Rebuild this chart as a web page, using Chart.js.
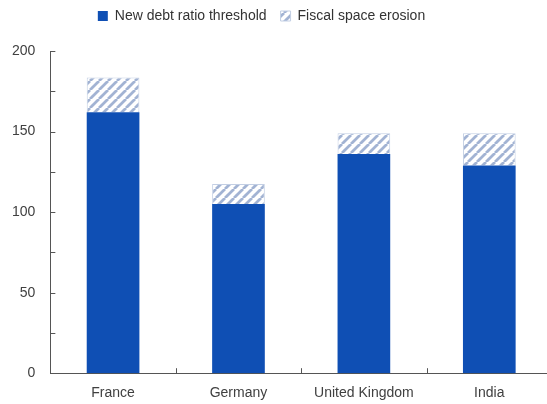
<!DOCTYPE html>
<html>
<head>
<meta charset="utf-8">
<script src="https://cdn.jsdelivr.net/npm/chart.js@4"></script>
<style>
  body { margin: 0; background: #fff; overflow: hidden; }
  .wrap { width: 552px; height: 404px; }
</style>
</head>
<body>
<div class="wrap"><canvas id="debtChart"></canvas></div>
<script>
// data
const categories = ["France", "Germany", "United Kingdom", "India"];
const thresholdValues = [162, 105, 136, 129];
const erosionValues = [21.5, 12.5, 13, 20];
const yMajorStep = 50;

const BLUE = "#0f4fb4";
const HATCH = "#a2b3d3";

// diagonal hatch for the erosion part
function hatchPattern() {
  const c = document.createElement("canvas");
  c.width = 9; c.height = 9;
  const g = c.getContext("2d");
  g.fillStyle = "#fff";
  g.fillRect(0, 0, 9, 9);
  g.strokeStyle = HATCH;
  g.lineWidth = 2.8;
  g.beginPath();
  for (let k = -9; k <= 18; k += 9) {
    g.moveTo(k, 9);
    g.lineTo(k + 9, 0);
  }
  g.stroke();
  return g.createPattern(c, "repeat");
}

// small inward tick marks, like the original
const innerTicks = {
  id: "innerTicks",
  afterDraw(chart) {
    const { ctx, scales: { x, y }, chartArea } = chart;
    ctx.save();
    ctx.strokeStyle = "#555";
    ctx.lineWidth = 1;
    ctx.beginPath();
    y.ticks.forEach(t => {
      const py = Math.round(y.getPixelForValue(t.value)) + 0.5;
      ctx.moveTo(chartArea.left, py);
      ctx.lineTo(chartArea.left + 5, py);
    });
    for (let i = 0; i < categories.length - 1; i++) {
      const px = Math.round((x.getPixelForValue(i) + x.getPixelForValue(i + 1)) / 2) + 0.5;
      ctx.moveTo(px, chartArea.bottom);
      ctx.lineTo(px, chartArea.bottom - 5);
    }
    ctx.stroke();
    ctx.restore();
  }
};

// extra room under the legend, and nudge it left/up like the original
const legendTweak = {
  id: "legendTweak",
  beforeInit(chart) {
    const lg = chart.legend;
    const fit = lg.fit;
    lg.fit = function () {
      fit.bind(lg)();
      this.height += 13;
    };
    const draw = lg.draw;
    lg.draw = function () {
      const ctx = chart.ctx;
      ctx.save();
      ctx.translate(-13, -5);
      draw.bind(lg)();
      ctx.restore();
    };
  }
};

new Chart(document.getElementById("debtChart"), {
  type: "bar",
  data: {
    labels: categories,
    datasets: [
      {
        label: "New debt ratio threshold",
        data: thresholdValues,
        backgroundColor: BLUE,
        borderWidth: 0,
        barPercentage: 0.42,
        categoryPercentage: 1,
      },
      {
        label: "Fiscal space erosion",
        data: erosionValues,
        backgroundColor: hatchPattern(),
        borderColor: "#c3cfe4",
        borderWidth: 1,
        borderSkipped: "bottom",
        barPercentage: 0.42,
        categoryPercentage: 1,
      },
    ],
  },
  options: {
    responsive: true,
    maintainAspectRatio: false,
    animation: false,
    layout: { padding: { top: 0, right: 0, bottom: -10, left: -3 } },
    plugins: {
      legend: {
        position: "top",
        labels: {
          boxWidth: 10,
          boxHeight: 10,
          padding: 14,
          color: "#333",
          font: { family: "Liberation Sans, Arial, sans-serif", size: 14 },
        },
      },
      tooltip: { enabled: false },
    },
    scales: {
      x: {
        stacked: true,
        grid: { display: false, drawTicks: false },
        border: { display: true, color: "#555", width: 1 },
        ticks: {
          padding: 12,
          color: "#404040",
          font: { family: "Liberation Sans, Arial, sans-serif", size: 14 },
        },
      },
      y: {
        stacked: true,
        min: 0,
        max: 200,
        grid: { display: false, drawTicks: false },
        border: { display: true, color: "#555", width: 1 },
        ticks: {
          stepSize: 25,
          padding: 15,
          color: "#404040",
          font: { family: "Liberation Sans, Arial, sans-serif", size: 14 },
          callback: v => (v % yMajorStep === 0 ? v : ""),
        },
      },
    },
  },
  plugins: [innerTicks, legendTweak],
});
</script>
</body>
</html>
